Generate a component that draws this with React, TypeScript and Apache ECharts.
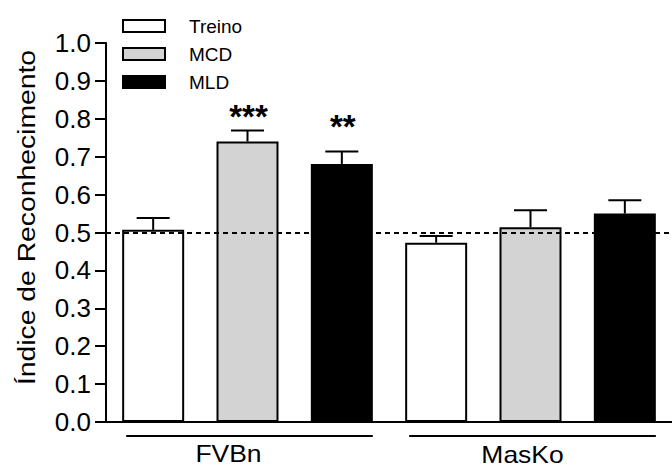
import React, { useEffect, useRef } from "react";
import * as echarts from "echarts";

// ---- data ----
const groups = ["FVBn", "MasKo"];
const conditions = ["Treino", "MCD", "MLD"];
const categories = [
  "FVBn Treino", "FVBn MCD", "FVBn MLD",
  "MasKo Treino", "MasKo MCD", "MasKo MLD",
];
const treinoMean = [0.507, 0.473];
const treinoSem = [0.031, 0.018];
const mcdMean = [0.740, 0.514];
const mcdSem = [0.029, 0.045];
const mldMean = [0.681, 0.550];
const mldSem = [0.033, 0.035];
const mcdSig = ["***", ""];
const mldSig = ["**", ""];
const mcdSigY = [0.815, null];
const mldSigY = [0.787, null];
const chanceLevel = 0.5;
const yTicks = [0, 0.1, 0.2, 0.3, 0.4, 0.5, 0.6, 0.7, 0.8, 0.9, 1.0];

const FONT = "'Liberation Sans', Arial, Helvetica, sans-serif";
const colors = ["#ffffff", "#d3d3d3", "#000000"];
const groupLabelShift = [-21, -10];
const groupLabelDrop = [0, 1];

export default function App() {
  const ref = useRef<HTMLDivElement>(null);

  useEffect(() => {
    if (!ref.current) return;
    const chart = echarts.init(ref.current, undefined, { renderer: "svg" });

    const means = [treinoMean, mcdMean, mldMean];
    const sems = [treinoSem, mcdSem, mldSem];
    const sigs = [["", ""], mcdSig, mldSig];
    const sigYs = [[null, null], mcdSigY, mldSigY];

    const barSeries = conditions.map((name, c) => {
      const data: any[] = categories.map(() => "-");
      groups.forEach((_, g) => {
        data[g * 3 + c] = means[c][g];
      });
      const s: any = {
        name,
        type: "bar",
        data,
        barWidth: 62,
        barGap: "-100%",
        itemStyle: { color: colors[c], borderColor: "#000", borderWidth: 2 },
        silent: true,
        z: 2,
      };
      if (c === 0) {
        s.markLine = {
          silent: true,
          symbol: "none",
          label: { show: false },
          lineStyle: { type: [5, 4], color: "#000", width: 2 },
          data: [{ yAxis: chanceLevel }],
          z: 5,
        };
      }
      return s;
    });

    const errData: any[] = [];
    conditions.forEach((_, c) => {
      groups.forEach((_, g) => {
        errData.push([
          g * 3 + c,
          means[c][g],
          means[c][g] + sems[c][g],
          sigs[c][g],
          sigYs[c][g] == null ? -1 : sigYs[c][g],
        ]);
      });
    });

    const errSeries = {
      type: "custom",
      silent: true,
      clip: false,
      z: 4,
      data: errData,
      renderItem: (params: any, api: any) => {
        const x = api.value(0);
        const p1 = api.coord([x, api.value(1)]);
        const p2 = api.coord([x, api.value(2)]);
        const children: any[] = [
          {
            type: "line",
            shape: { x1: p1[0], y1: p1[1], x2: p2[0], y2: p2[1] },
            style: { stroke: "#000", lineWidth: 2 },
          },
          {
            type: "line",
            shape: { x1: p2[0] - 16.5, y1: p2[1], x2: p2[0] + 16.5, y2: p2[1] },
            style: { stroke: "#000", lineWidth: 2 },
          },
        ];
        const sig = errData[params.dataIndex][3];
        const sy = errData[params.dataIndex][4];
        if (sig && sy >= 0) {
          const ps = api.coord([x, sy]);
          children.push({
            type: "text",
            x: ps[0] + 1,
            y: ps[1] + 3,
            style: {
              text: sig,
              fill: "#000",
              font: `bold 33px ${FONT}`,
              fontSize: 33,
              fontWeight: "bold",
              fontFamily: FONT,
              align: "center",
              verticalAlign: "middle",
              textAlign: "center",
              textVerticalAlign: "middle",
            },
          });
        }
        return { type: "group", children };
      },
    };

    const groupData = groups.map((name, g) => [g * 3, g * 3 + 2, name]);
    const groupSeries = {
      type: "custom",
      silent: true,
      clip: false,
      z: 4,
      data: groupData,
      renderItem: (params: any, api: any) => {
        const i = params.dataIndex;
        const a = api.coord([api.value(0), 0]);
        const b = api.coord([api.value(1), 0]);
        const y = a[1] + 14;
        const name = groupData[i][2] as string;
        const x1 = a[0] - 27;
        const x2 = b[0] + 31;
        return {
          type: "group",
          children: [
            {
              type: "line",
              shape: { x1, y1: y, x2, y2: y },
              style: { stroke: "#000", lineWidth: 2 },
            },
            {
              type: "text",
              x: (x1 + x2) / 2 + groupLabelShift[i],
              y: y + 18 + groupLabelDrop[i],
              scaleX: 1.15,
              style: {
                text: name,
                fill: "#000",
                font: `23px ${FONT}`,
                fontSize: 23,
                fontFamily: FONT,
                align: "center",
                verticalAlign: "middle",
                textAlign: "center",
                textVerticalAlign: "middle",
              },
            },
          ],
        };
      },
    };

    chart.setOption({
      animation: false,
      backgroundColor: "#ffffff",
      textStyle: { fontFamily: FONT },
      grid: { left: 106, right: -10, top: 43, bottom: 45, containLabel: false },
      legend: {
        orient: "vertical",
        left: 122,
        top: 16,
        padding: 0,
        itemWidth: 42,
        itemHeight: 12,
        itemGap: 8,
        selectedMode: false,
        icon: "rect",
        textStyle: {
          fontSize: 19,
          fontFamily: FONT,
          color: "#000",
          lineHeight: 20,
          padding: [0, 0, 0, 19],
        },
        data: conditions.map((name, c) => ({
          name,
          itemStyle: { color: colors[c], borderColor: "#000", borderWidth: 2 },
        })),
      },
      xAxis: {
        type: "category",
        data: categories,
        axisLine: { show: true, lineStyle: { color: "#000", width: 2 } },
        axisTick: { show: false },
        axisLabel: { show: false },
        splitLine: { show: false },
      },
      yAxis: {
        type: "value",
        min: yTicks[0],
        max: yTicks[yTicks.length - 1],
        interval: 0.1,
        axisLine: { show: true, lineStyle: { color: "#000", width: 2 } },
        axisTick: { show: true, length: 11, lineStyle: { color: "#000", width: 2 } },
        axisLabel: {
          margin: 15,
          fontSize: 26,
          color: "#000",
          fontFamily: FONT,
          formatter: (v: number) => v.toFixed(1),
        },
        splitLine: { show: false },
      },
      graphic: [
        {
          type: "text",
          x: 27,
          y: 217.5,
          rotation: Math.PI / 2,
          scaleX: 1.18,
          silent: true,
          style: {
            text: "Índice de Reconhecimento",
            fill: "#000",
            font: `24px ${FONT}`,
            fontSize: 24,
            fontFamily: FONT,
            align: "center",
            verticalAlign: "middle",
            textAlign: "center",
            textVerticalAlign: "middle",
          },
        },
      ],
      series: [...barSeries, errSeries, groupSeries],
    });

    return () => chart.dispose();
  }, []);

  return (
    <div
      ref={ref}
      style={{ position: "absolute", left: 0, top: 0, width: 672, height: 467 }}
    />
  );
}
